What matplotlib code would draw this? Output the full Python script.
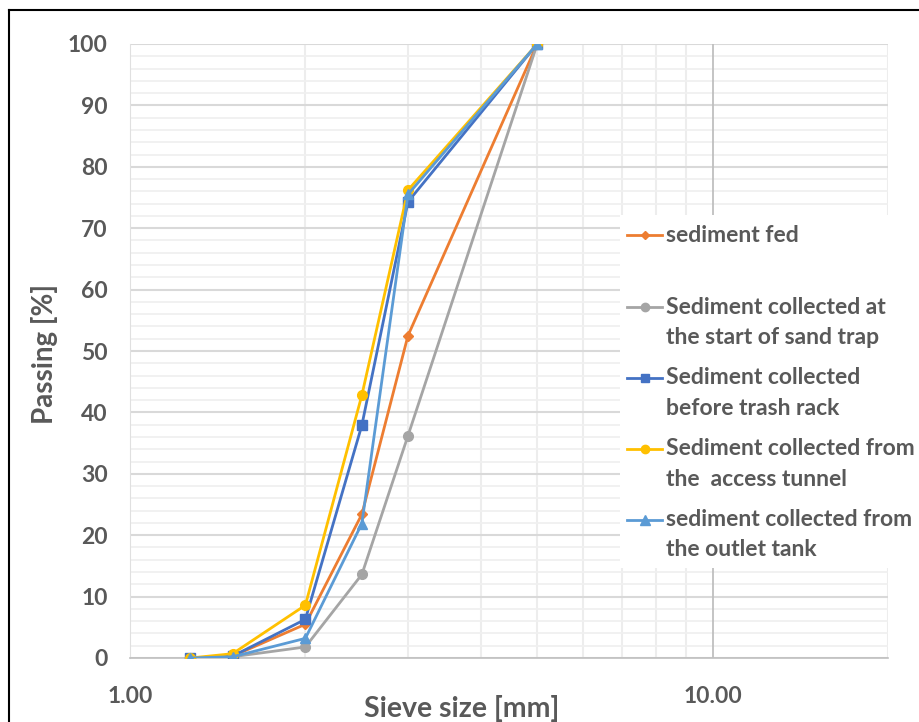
import matplotlib
matplotlib.use("Agg")
import matplotlib.pyplot as plt
from matplotlib.lines import Line2D
from matplotlib.patches import Rectangle
from matplotlib.ticker import FixedLocator, FuncFormatter

# sieve sizes [mm] and passing [%] per sample
sieve = [1.27, 1.5, 2.0, 2.5, 3.0, 5.0]
fed = [0, 0.3, 5.5, 23.4, 52.5, 100]
start_trap = [0, 0.2, 1.8, 13.6, 36.2, 100]
trash_rack = [0, 0.3, 6.3, 37.9, 74.3, 100]
access_tunnel = [0, 0.7, 8.6, 42.8, 76.2, 100]
outlet_tank = [0, 0.2, 3.2, 21.9, 75.5, 100]

labels = ["sediment fed",
          "Sediment collected at\nthe start of sand trap",
          "Sediment collected\nbefore trash rack",
          "Sediment collected from\nthe  access tunnel",
          "sediment collected from\nthe outlet tank"]
series = [fed, start_trap, trash_rack, access_tunnel, outlet_tank]
colors = ["#ED7D31", "#A5A5A5", "#4472C4", "#FFC000", "#5B9BD5"]
markers = ["D", "o", "s", "o", "^"]
msizes = [5.5, 7, 7, 7, 7.5]

txt = "#595959"
plt.rcParams["font.family"] = ["Lato", "DejaVu Sans"]
plt.rcParams["font.weight"] = "bold"

W, H = 920, 722
fig = plt.figure(figsize=(W / 100, H / 100), dpi=100)
ax = fig.add_axes([130 / W, 1 - 658 / H, 758 / W, 614 / H])

for y, c, m, ms in zip(series, colors, markers, msizes):
    ax.plot(sieve, y, color=c, lw=2.0, marker=m, ms=ms, zorder=3)

ax.set_xscale("log")
ax.set_xlim(1, 20)
ax.set_ylim(0, 100)

# gridlines Excel-like
ax.xaxis.set_major_locator(FixedLocator([1, 10]))
ax.xaxis.set_minor_locator(FixedLocator([2, 3, 4, 5, 6, 7, 8, 9, 20]))
ax.xaxis.set_major_formatter(FuncFormatter(lambda v, p: "%.2f" % v))
ax.xaxis.set_minor_formatter(FuncFormatter(lambda v, p: ""))
ax.yaxis.set_major_locator(FixedLocator(range(0, 101, 10)))
ax.yaxis.set_minor_locator(FixedLocator(range(0, 101, 2)))
ax.grid(which="minor", axis="x", color="#EDEDED", lw=1.5)
ax.grid(which="major", axis="y", color="#D9D9D9", lw=1.5)
ax.grid(which="minor", axis="y", color="#F0F0F0", lw=1.3)
ax.set_axisbelow(True)
# decade line above the horizontal gridlines
ax.axvline(10, color="#BFBFBF", lw=1.3, zorder=1)
for s in ["top", "right"]:
    ax.spines[s].set_visible(False)
ax.spines["left"].set_color("#E0E0E0")
ax.spines["bottom"].set_color("#BFBFBF")
ax.spines["bottom"].set_linewidth(1.2)
ax.tick_params(which="both", length=0, labelcolor=txt, labelsize=16.5)
ax.tick_params(axis="x", pad=20)
ax.tick_params(axis="y", pad=16)

ax.set_xlabel("Sieve size [mm]", fontsize=20.5, color=txt, fontweight="bold")
ax.set_ylabel("Passing [%]", fontsize=20, color=txt, fontweight="bold")
ax.xaxis.set_label_coords((462 - 130) / 758, (658 - 708) / 614)
ax.yaxis.set_label_coords((45 - 130) / 758, (658 - 354) / 614)
ax.xaxis.label.set_va("center")
ax.yaxis.label.set_va("center")

# legend drawn by hand so markers sit on the first line of each entry
def fx(px):
    return px / W

def fy(py):
    return 1 - py / H

fig.patches.append(Rectangle((fx(620), fy(568)), fx(920) - fx(620), fy(215) - fy(568),
                             transform=fig.transFigure, facecolor="white",
                             edgecolor="none", zorder=5))
entry_y = 235
for lab, c, m, ms in zip(labels, colors, markers, msizes):
    fig.add_artist(Line2D([fx(627), fx(662)], [fy(entry_y), fy(entry_y)],
                          transform=fig.transFigure, color=c, lw=2.0, zorder=6))
    fig.add_artist(Line2D([fx(644.5)], [fy(entry_y)], transform=fig.transFigure,
                          color=c, marker=m, ms=ms - 1, zorder=7))
    for i, line in enumerate(lab.split("\n")):
        fig.text(fx(666), fy(entry_y + 30 * i), line, fontsize=16.5, color=txt,
                 fontweight="bold", va="center", ha="left", zorder=8)
    entry_y += 71 if "\n" in lab else 72

# frame of the picture (left and top edges visible)
fig.add_artist(Line2D([fx(9.5), fx(9.5)], [0, fy(9.5)], transform=fig.transFigure,
                      color="black", lw=1.5))
fig.add_artist(Line2D([fx(9.5), 1], [fy(9.5), fy(9.5)], transform=fig.transFigure,
                      color="black", lw=1.5))

fig.savefig("out.png", dpi=100, facecolor="white")
